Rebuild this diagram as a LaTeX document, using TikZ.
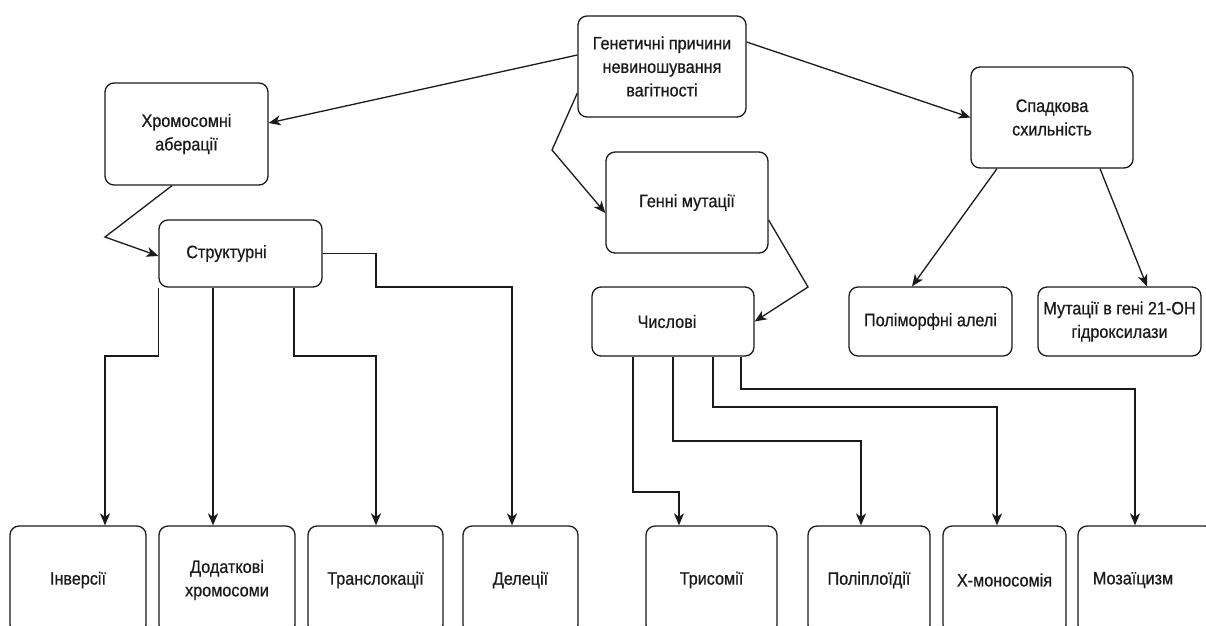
\documentclass[tikz,border=0pt]{standalone}
\usepackage{fontspec}
\setmainfont{Liberation Sans}[FakeStretch=0.9, FakeBold=0.6]
\usetikzlibrary{arrows.meta,calc}
\definecolor{ink}{HTML}{1A1A1A}
\begin{document}
\begin{tikzpicture}[x=1pt,y=-1pt,
  box/.style={draw=ink, line width=1.3pt, rounded corners=9pt, inner sep=0pt,
    align=center, font=\fontsize{18}{23.5}\selectfont, text=ink, fill=white},
  lbl/.style={font=\fontsize{18}{23.5}\selectfont, text=ink, inner sep=0pt},
  arr/.style={draw=ink, line width=1.3pt, rounded corners=0pt,
    -{Stealth[length=12pt,width=10pt,inset=3.5pt]}}
]
\useasboundingbox (0,0) rectangle (1206,625);
\clip (0,0) rectangle (1206,625);

% upper level
\node[box, minimum width=168pt, minimum height=101pt] (top) at (662,66.5)
  {Генетичні причини\\невиношування\\вагітності};
\node[box, minimum width=163pt, minimum height=102pt] (chr) at (186.5,134)
  {Хромосомні\\аберації};
\node[box, minimum width=162pt, minimum height=101pt] (gen) at (687,202.5)
  {Генні мутації};
\node[box, minimum width=162pt, minimum height=101pt] (spa) at (1052,117.5)
  {Спадкова\\схильність};

% middle level
\node[box, minimum width=163pt, minimum height=67pt,
  label={[lbl, name=strT, xshift=-14pt]center:Структурні}] (str) at (240.5,253.5) {};
\node[box, minimum width=162pt, minimum height=69pt,
  label={[lbl, name=numT, xshift=-6pt]center:Числові}] (num) at (673,321.5) {};
\node[box, minimum width=163pt, minimum height=69pt] (pm) at (930.5,321.5) {Поліморфні алелі};
\node[box, minimum width=163pt, minimum height=69pt] (mut) at (1119.5,321.5)
  {Мутації в гені 21-ОН\\гідроксилази};

% bottom level
\node[box, minimum width=136pt, minimum height=108pt] (inv) at (78,580) {Інверсії};
\node[box, minimum width=136pt, minimum height=108pt] (dod) at (227,580) {Додаткові\\хромосоми};
\node[box, minimum width=135pt, minimum height=108pt] (tra) at (375.5,580) {Транслокації};
\node[box, minimum width=115pt, minimum height=108pt] (del) at (520.5,580) {Делеції};
\node[box, minimum width=131pt, minimum height=108pt] (tri) at (711.5,580) {Трисомії};
\node[box, minimum width=122pt, minimum height=108pt] (pol) at (869,580) {Поліплоїдії};
\node[box, minimum width=123pt, minimum height=108pt] (xmo) at (1004.5,580) {Х-моносомія};
\node[box, minimum width=136pt, minimum height=108pt,
  label={[lbl, name=mzT, xshift=-13pt]center:Мозаїцизм}] (mz) at (1146,580) {};

% from the root
\draw[arr] ($(top.west)+(0,-11.5)$) -- ($(chr.east)+(0,-11)$);
\draw[arr] ($(top.west)+(0,26.5)$) -- (552,150) -- ($(gen.west)+(0,10.5)$);
\draw[arr] ($(top.east)+(0,-24.5)$) -- (spa.west);

% second level
\draw[arr] ($(chr.south)+(-14.5,0)$) -- (105,237) -- ($(str.west)+(0,2.5)$);
\draw[arr] ($(gen.east)+(0,17.5)$) -- (808,287) -- (num.east);
\draw[arr] ($(spa.south)+(-55,0)$) -- ($(pm.north)+(-18.5,0)$);
\draw[arr] ($(spa.south)+(48,0)$) -- ($(mut.north)+(27.5,0)$);

% structural aberrations
\draw[arr] (str.south west) |- (105,356) -- ($(inv.north)+(27,0)$);
\draw[arr] ($(str.south)+(-27.5,0)$) -- ($(dod.north)+(-14,0)$);
\draw[arr] ($(str.south)+(53.5,0)$) |- (376,356) -- ($(tra.north)+(0.5,0)$);
\draw[arr] (str.east) -| (376,287) -| ($(del.north)+(-8.5,0)$);

% numerical aberrations
\draw[arr] ($(num.south)+(-40,0)$) |- (679,492) -- ($(tri.north)+(-32.5,0)$);
\draw[arr] (num.south) |- (861,441) -- ($(pol.north)+(-8,0)$);
\draw[arr] ($(num.south)+(40,0)$) |- (997,407) -- ($(xmo.north)+(-7.5,0)$);
\draw[arr] ($(num.south)+(68,0)$) |- (1135,389) -- ($(mz.north)+(-11,0)$);
\end{tikzpicture}
\end{document}
